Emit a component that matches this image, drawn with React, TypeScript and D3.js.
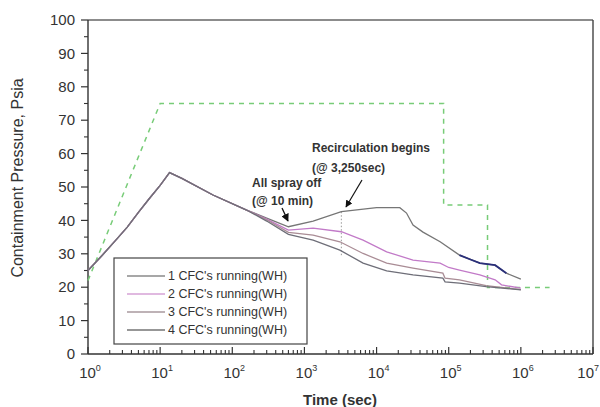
import React from "react";
import * as d3 from "d3";

// ---- data (time in sec, pressure in psia) ----
const riseTimes = [1, 1.6, 2.5, 3.5, 5, 7, 10, 13.5, 20, 54, 158];
const riseValues = [25, 29.7, 34.4, 38, 42.4, 46.4, 50.5, 54.3, 52.6, 47.6, 43.1];

const cfc1Times = [300, 600, 1320, 3250, 10000, 21000, 26000, 32000, 44000, 76000, 141000, 200000, 270000, 440000, 630000, 1000000];
const cfc1Values = [40.7, 38.1, 39.8, 42.6, 43.8, 43.8, 42.2, 38.6, 36.5, 33.6, 29.6, 28.3, 27.2, 26.6, 24.2, 22.4];

const cfc2Times = [300, 600, 1320, 3250, 6500, 13800, 32000, 76000, 100000, 141000, 270000, 440000, 540000, 1000000];
const cfc2Values = [40.4, 37.1, 37.7, 36.6, 34.1, 30.6, 28.1, 27.2, 25.9, 25.1, 23.7, 22.2, 20.7, 19.7];

const cfc3Times = [300, 600, 1320, 3100, 6500, 13800, 32000, 83000, 89000, 141000, 330000, 1000000];
const cfc3Values = [40.2, 36.4, 35.6, 33.6, 30.1, 27.2, 25.7, 24.2, 22.7, 22.2, 20.5, 19.3];

const cfc4Times = [300, 600, 1320, 3100, 6500, 13800, 32000, 83000, 89000, 141000, 330000, 1000000];
const cfc4Values = [39.8, 35.8, 34.1, 31.1, 27.2, 24.9, 23.7, 22.7, 21.6, 21.2, 20.2, 19.2];

const blueTimes = [141000, 200000, 270000, 440000, 630000];
const blueValues = [29.6, 28.3, 27.2, 26.6, 24.2];

const limitTimes = [1, 10, 85000, 85000, 345000, 345000, 2500000];
const limitValues = [22, 75, 75, 44.6, 44.6, 19.9, 19.9];

const recircTimes = [3250, 3250];
const recircValues = [42.6, 29.5];

const seriesLabels = ["1 CFC's running(WH)", "2 CFC's running(WH)", "3 CFC's running(WH)", "4 CFC's running(WH)"];
const seriesColors = ["#767676", "#c27ac8", "#a98c95", "#6e6e78"];
const legendColors = ["#8a8a8a", "#d6a2d6", "#a8989e", "#747474"];

const yTicks = [0, 10, 20, 30, 40, 50, 60, 70, 80, 90, 100];
const xDecades = [0, 1, 2, 3, 4, 5, 6, 7];

export default function App() {
  const W = 600, H = 407;
  const left = 88, right = 593, top = 20, bottom = 354;
  const x = d3.scaleLog().domain([1, 1e7]).range([left, right]);
  const y = d3.scaleLinear().domain([0, 100]).range([bottom, top]);
  const line = d3.line<[number, number]>().x((d) => x(d[0])).y((d) => y(d[1]));
  const zip = (t: number[], v: number[]) => t.map((tt, i) => [tt, v[i]] as [number, number]);
  const series = [
    zip([...riseTimes, ...cfc1Times], [...riseValues, ...cfc1Values]),
    zip([...riseTimes, ...cfc2Times], [...riseValues, ...cfc2Values]),
    zip([...riseTimes, ...cfc3Times], [...riseValues, ...cfc3Values]),
    zip([...riseTimes, ...cfc4Times], [...riseValues, ...cfc4Values]),
  ];
  const minorY = d3.range(5, 100, 10);
  const minorX: number[] = [];
  for (let d = 0; d < 7; d++) for (let k = 2; k <= 9; k++) minorX.push(k * Math.pow(10, d));
  const font = "Liberation Sans, Arial, sans-serif";

  return (
    <svg width={W} height={H} style={{ position: "absolute", left: 0, top: 0, background: "#fff" }} fontFamily={font}>
      <rect width={W} height={H} fill="#fff" />
      {/* frame */}
      <line x1={left} x2={right} y1={top} y2={top} stroke="#666" strokeWidth={1.6} />
      <line x1={right} x2={right} y1={top} y2={bottom} stroke="#444" strokeWidth={1.4} />
      <line x1={left} x2={left} y1={top} y2={bottom} stroke="#333" strokeWidth={1.4} />
      <line x1={left} x2={right} y1={bottom} y2={bottom} stroke="#333" strokeWidth={1.4} />
      {/* y ticks */}
      {yTicks.map((t) => (
        <g key={"y" + t}>
          <line x1={left - 7} x2={left} y1={y(t)} y2={y(t)} stroke="#333" strokeWidth={1.2} />
          <text x={75} y={y(t)} dy="0.35em" textAnchor="end" fontSize={15} fill="#333">{t}</text>
        </g>
      ))}
      {minorY.map((t) => (
        <line key={"ym" + t} x1={left - 4} x2={left} y1={y(t)} y2={y(t)} stroke="#333" strokeWidth={1.1} />
      ))}
      {/* x ticks */}
      {xDecades.map((d) => (
        <g key={"x" + d}>
          <line x1={x(Math.pow(10, d))} x2={x(Math.pow(10, d))} y1={bottom} y2={bottom - 7} stroke="#333" strokeWidth={1.2} />
          <text x={d === 7 ? 599 : x(Math.pow(10, d)) + 2} y={378} textAnchor={d === 7 ? "end" : "middle"} fontSize={15} fill="#333">
            10<tspan dy={-7} fontSize={9}>{d}</tspan>
          </text>
        </g>
      ))}
      {minorX.map((t) => (
        <line key={"xm" + t} x1={x(t)} x2={x(t)} y1={bottom} y2={bottom - 4} stroke="#333" strokeWidth={1.1} />
      ))}
      {/* axis titles */}
      <text transform="translate(23,178) rotate(-90)" textAnchor="middle" fontSize={16} fill="#333">Containment Pressure, Psia</text>
      <text x={340} y={405} textAnchor="middle" fontSize={15} fontWeight="bold" fill="#333">Time (sec)</text>
      {/* limit */}
      <path d={line(zip(limitTimes, limitValues)) || ""} fill="none" stroke="#78cc78" strokeWidth={1.5} strokeDasharray="5,5" />
      {/* recirculation marker */}
      <path d={line(zip(recircTimes, recircValues)) || ""} fill="none" stroke="#999" strokeWidth={1} strokeDasharray="1.5,2" />
      {/* series */}
      {series.map((s, i) => (
        <path key={"s" + i} d={line(s) || ""} fill="none" stroke={seriesColors[i]} strokeWidth={1.3} />
      ))}
      <path d={line(zip(blueTimes, blueValues)) || ""} fill="none" stroke="#2a2f7a" strokeWidth={1.8} />
      {/* annotations */}
      <g fontSize={12} fontWeight="bold" fill="#333">
        <text x={252} y={187}>All spray off</text>
        <text x={252} y={205}>(@ 10 min)</text>
        <text x={312} y={152}>Recirculation begins</text>
        <text x={312} y={172}>(@ 3,250sec)</text>
      </g>
      <defs>
        <marker id="arr" viewBox="0 0 10 10" refX="9" refY="5" markerWidth="6" markerHeight="6" orient="auto">
          <path d="M0,0 L10,5 L0,10 z" fill="#111" />
        </marker>
      </defs>
      <line x1={282} y1={208} x2={288} y2={221} stroke="#111" strokeWidth={1.3} markerEnd="url(#arr)" />
      <line x1={362} y1={180} x2={346} y2={207} stroke="#111" strokeWidth={1.2} markerEnd="url(#arr)" />
      {/* legend */}
      <rect x={114} y={258} width={193} height={86} fill="#fff" stroke="#444" strokeWidth={1.2} />
      {seriesLabels.map((lab, i) => (
        <g key={"l" + i}>
          <line x1={127} x2={165} y1={276 + i * 18} y2={276 + i * 18} stroke={legendColors[i]} strokeWidth={1.3} />
          <text x={168} y={276 + i * 18} dy="0.35em" fontSize={12.5} fill="#333">{lab}</text>
        </g>
      ))}
    </svg>
  );
}
